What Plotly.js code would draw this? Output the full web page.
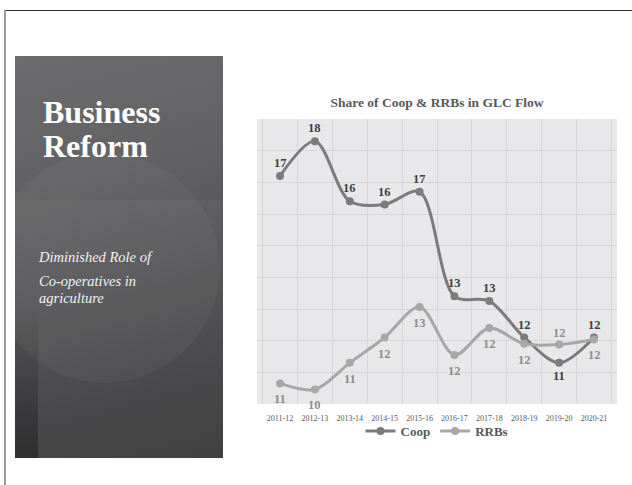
<!DOCTYPE html>
<html>
<head>
<meta charset="utf-8">
<script src="https://cdn.plot.ly/plotly-3.0.1.min.js"></script>
<style>
  html, body { margin:0; padding:0; background:#ffffff; }
  #slide { position:relative; width:632px; height:485px; overflow:hidden; background:#ffffff; }
  #topline { position:absolute; left:4px; top:10px; width:628px; height:1px; background:#2e2e2e; }
  #leftline { position:absolute; left:4px; top:10px; width:2px; height:475px; background:#9a9a9a; }
  #panel { position:absolute; left:15px; top:56px; width:208px; height:402px; overflow:hidden;
    background: linear-gradient(165deg, #6c6c6e 0%, #626264 30%, #545456 55%, #444446 80%, #3a3a3b 100%); }
  #circle { position:absolute; left:-25px; top:97px; width:230px; height:230px; border-radius:50%;
    background: rgba(255,255,255,0.035); }
  #band { position:absolute; left:0; top:144px; width:208px; height:258px; background: rgba(255,255,255,0.03); }
  #strip { position:absolute; left:0; top:250px; width:23px; height:152px;
    background: linear-gradient(to bottom, rgba(0,0,0,0) 0%, rgba(0,0,0,0.2) 60%, rgba(0,0,0,0.32) 100%); }
  #ptitle { position:absolute; left:28px; top:39px; color:#ffffff; font-family:"Liberation Serif", serif;
    font-weight:bold; font-size:32px; line-height:34px; }
  #psub { position:absolute; left:24px; top:193px; color:#f2f2f2; font-family:"Liberation Serif", serif;
    font-style:italic; font-size:14.5px; line-height:17px; }
  #psub p { margin:0 0 7px 0; }
  #chart { position:absolute; left:0; top:0; width:632px; height:485px; }
</style>
</head>
<body>
<div id="slide">
  <div id="topline"></div>
  <div id="leftline"></div>
  <div id="panel">
    <div id="band"></div>
    <div id="circle"></div>
    <div id="strip"></div>
    <div id="ptitle">Business<br>Reform</div>
    <div id="psub"><p>Diminished Role of</p><p>Co-operatives in<br>agriculture</p></div>
  </div>
  <div id="chart"></div>
</div>
<script>
// ---- data ----
const years = ['2011-12','2012-13','2013-14','2014-15','2015-16','2016-17','2017-18','2018-19','2019-20','2020-21'];
const coop  = [17.2, 18.3, 16.4, 16.3, 16.7, 13.4, 13.25, 12.1, 11.3, 12.1];
const rrbs  = [10.65, 10.46, 11.3, 12.1, 13.06, 11.55, 12.4, 11.9, 11.88, 12.04];
const seriesNames = ['Coop', 'RRBs'];
const chartTitle = 'Share of Coop & RRBs in GLC Flow';

// label placement (style)
const coopLabelSide = ['a','a','a','a','a','a','a','a','b','a'];
const rrbLabelSide  = ['b','b','b','b','b','b','b','b','a','b'];

const FONT = '"Liberation Serif", "DejaVu Serif", serif';
const coopColor = '#7b7b7b', rrbColor = '#a7a7a7';

const annotations = [];
function addLabels(vals, sides, color, upShift, downShift) {
  vals.forEach((v, i) => {
    annotations.push({
      x: years[i], y: v, xref: 'x', yref: 'y',
      text: String(Math.round(v)), showarrow: false,
      yshift: sides[i] === 'a' ? upShift : -downShift,
      font: {family: FONT, size: 12.5, color: color, weight: 'bold'}
    });
  });
}
addLabels(coop, coopLabelSide, '#3f3f3f', 13, 13);
addLabels(rrbs, rrbLabelSide, '#8e8e8e', 11, 16);

const traces = [
  {x: years, y: coop, name: seriesNames[0], type: 'scatter', mode: 'lines+markers',
   line: {color: coopColor, width: 3, shape: 'spline', smoothing: 0.9},
   marker: {color: coopColor, size: 8}},
  {x: years, y: rrbs, name: seriesNames[1], type: 'scatter', mode: 'lines+markers',
   line: {color: rrbColor, width: 3, shape: 'spline', smoothing: 0.9},
   marker: {color: rrbColor, size: 8}}
];

const layout = {
  width: 632, height: 485,
  paper_bgcolor: 'rgba(0,0,0,0)',
  plot_bgcolor: '#e8e8ea',
  margin: {l: 257, r: 15, t: 119, b: 81},
  title: {text: chartTitle, x: 0.5, xref: 'paper', xanchor: 'center', y: 1 - 102/485, yanchor: 'middle',
          font: {family: FONT, size: 13.5, color: '#595959', weight: 'bold'}},
  xaxis: {type: 'category', tickson: 'boundaries', showgrid: true, gridcolor: '#d7d7d9', gridwidth: 1,
          showline: false, zeroline: false, ticks: '', ticklen: 0, ticklabelstandoff: 8,
          tickfont: {family: FONT, size: 8, color: '#595959'}, fixedrange: true},
  yaxis: {range: [10, 19], dtick: 1, tick0: 10, showgrid: true, gridcolor: '#d7d7d9', gridwidth: 1,
          showticklabels: false, zeroline: false, showline: false, ticks: '', fixedrange: true},
  showlegend: true,
  legend: {orientation: 'h', x: 0.5, xanchor: 'center', y: -27/285, yanchor: 'middle',
           font: {family: FONT, size: 13, color: '#595959', weight: 'bold'},
           itemwidth: 30, bgcolor: 'rgba(0,0,0,0)'},
  annotations: annotations
};

Plotly.newPlot('chart', traces, layout, {staticPlot: true, displayModeBar: false});
</script>
</body>
</html>
